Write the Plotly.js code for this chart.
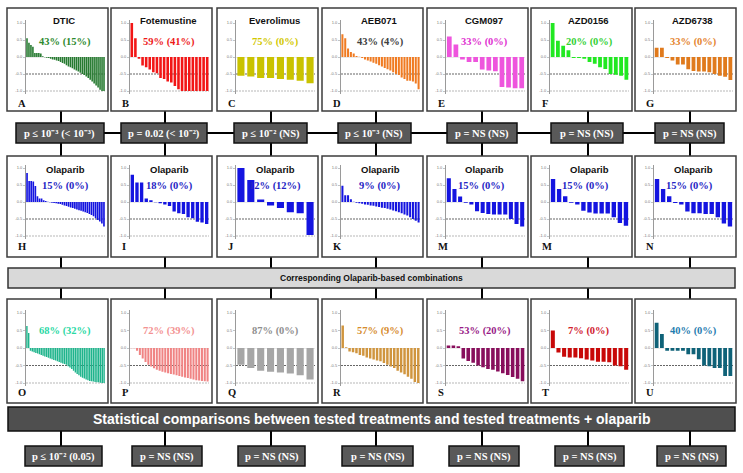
<!DOCTYPE html>
<html><head><meta charset="utf-8">
<script src="https://cdn.plot.ly/plotly-3.0.1.min.js"></script>
<style>html,body{margin:0;padding:0;background:#fff}#chart{width:743px;height:473px}</style>
</head><body><div id="chart"></div>
<script>
const W = 743, H = 473;
const SANS = 'Liberation Sans, Arial, sans-serif';
const SERIF = 'Liberation Serif, Times New Roman, serif';

// ---------- data ----------
// Top row: single agents
const dticValues = [0.55, 0.42, 0.35, 0.3, 0.12, 0.12, 0.12, 0.1, 0.02, -0.01, -0.02, -0.03, -0.05, -0.07, -0.08, -0.1, -0.12, -0.15, -0.18, -0.2, -0.24, -0.28, -0.3, -0.33, -0.37, -0.4, -0.43, -0.46, -0.5, -0.53, -0.57, -0.62, -0.67, -0.72, -0.78, -0.84, -0.9, -0.96, -1.0, -1.0];
const fotemustineValues = [1.0, 0.55, -0.05, -0.25, -0.3, -0.37, -0.45, -0.48, -0.62, -0.65, -0.72, -0.75, -0.85, -0.95, -1.0, -1.0, -1.0, -1.0, -1.0, -1.0, -1.0, -1.0];
const everolimusValues = [-0.55, -0.57, -0.62, -0.62, -0.65, -0.67, -0.7, -0.77];
const aeb071Values = [0.67, 0.55, 0.25, 0.15, 0.1, 0.03, 0.01, -0.03, -0.07, -0.1, -0.13, -0.17, -0.2, -0.24, -0.28, -0.32, -0.36, -0.4, -0.45, -0.5, -0.53, -0.6, -0.65, -0.7, -0.7, -0.72, -0.78, -0.95];
const cgm097Values = [0.6, 0.37, -0.07, -0.15, -0.15, -0.37, -0.4, -0.42, -0.88, -0.9, -0.92, -0.92];
const azd0156Values = [1.0, 0.48, 0.33, 0.2, -0.03, -0.03, -0.05, -0.15, -0.2, -0.3, -0.35, -0.5, -0.52, -0.55, -0.67];
const azd6738Values = [0.27, 0.27, -0.03, -0.1, -0.22, -0.22, -0.36, -0.41, -0.43, -0.43, -0.45, -0.5, -0.55, -0.58, -0.68];
// Middle row: olaparib alone in each model
const olapHValues = [0.85, 0.62, 0.62, 0.6, 0.47, 0.17, 0.1, 0.1, 0.05, 0.03, 0.01, -0.01, -0.02, -0.03, -0.04, -0.05, -0.06, -0.08, -0.1, -0.12, -0.14, -0.16, -0.18, -0.2, -0.22, -0.24, -0.26, -0.28, -0.3, -0.32, -0.35, -0.38, -0.42, -0.48, -0.53, -0.57, -0.63, -0.72];
const olapIValues = [0.8, 0.57, 0.57, 0.1, 0.05, -0.01, -0.04, -0.07, -0.12, -0.28, -0.33, -0.35, -0.45, -0.48, -0.58, -0.6, -0.65];
const olapJValues = [1.0, 0.65, 0.07, -0.1, -0.18, -0.3, -0.33, -0.97];
const olapKValues = [0.48, 0.2, 0.2, 0.08, 0.01, -0.02, -0.04, -0.05, -0.07, -0.08, -0.1, -0.11, -0.13, -0.15, -0.17, -0.18, -0.2, -0.22, -0.25, -0.27, -0.3, -0.33, -0.37, -0.4, -0.45, -0.5, -0.55, -0.6];
const olapM1Values = [0.7, 0.38, 0.16, -0.02, -0.07, -0.27, -0.32, -0.35, -0.37, -0.37, -0.37, -0.5, -0.65, -0.72];
const olapM2Values = [0.68, 0.38, 0.17, -0.02, -0.07, -0.26, -0.31, -0.34, -0.34, -0.34, -0.45, -0.62, -0.7];
const olapNValues = [0.68, 0.38, 0.17, -0.03, -0.07, -0.28, -0.33, -0.33, -0.35, -0.35, -0.45, -0.63, -0.72];
// Bottom row: olaparib-based combinations
const comboOValues = [0.63, 0.43, -0.08, -0.1, -0.12, -0.14, -0.16, -0.18, -0.2, -0.22, -0.24, -0.26, -0.28, -0.3, -0.32, -0.34, -0.36, -0.38, -0.4, -0.42, -0.44, -0.46, -0.48, -0.52, -0.56, -0.6, -0.65, -0.7, -0.74, -0.78, -0.82, -0.85, -0.87, -0.9, -0.92, -0.94, -0.95, -0.96, -0.97, -0.98, -0.98, -0.99, -1.0, -1.0];
const comboPValues = [-0.01, -0.01, -0.08, -0.2, -0.3, -0.4, -0.48, -0.53, -0.58, -0.62, -0.65, -0.68, -0.7, -0.72, -0.74, -0.76, -0.78, -0.8, -0.82, -0.84, -0.86, -0.88, -0.9, -0.92, -0.93, -0.94, -0.95, -0.96];
const comboQValues = [-0.48, -0.57, -0.65, -0.68, -0.7, -0.73, -0.78, -0.9];
const comboRValues = [0.64, 0.02, -0.1, -0.12, -0.15, -0.2, -0.22, -0.27, -0.3, -0.33, -0.36, -0.38, -0.43, -0.48, -0.53, -0.57, -0.65, -0.7, -0.75, -0.82, -0.88, -0.97, -1.0];
const comboSValues = [0.07, 0.07, 0.05, -0.3, -0.37, -0.42, -0.5, -0.55, -0.6, -0.62, -0.67, -0.72, -0.77, -0.83, -0.88, -0.95];
const comboTValues = [0.5, -0.13, -0.25, -0.27, -0.27, -0.29, -0.33, -0.36, -0.39, -0.39, -0.41, -0.5, -0.52, -0.62];
const comboUValues = [0.72, 0.4, -0.08, -0.08, -0.08, -0.08, -0.18, -0.18, -0.32, -0.5, -0.52, -0.57, -0.57, -0.8, -0.8];

const drugNames = ['DTIC', 'Fotemustine', 'Everolimus', 'AEB071', 'CGM097', 'AZD0156', 'AZD6738'];
const topRates = ['43% (15%)', '59% (41%)', '75% (0%)', '43% (4%)', '33% (0%)', '20% (0%)', '33% (0%)'];
const midRates = ['15% (0%)', '18% (0%)', '12% (12%)', '9% (0%)', '15% (0%)', '15% (0%)', '15% (0%)'];
const botRates = ['68% (32%)', '72% (39%)', '87% (0%)', '57% (9%)', '53% (20%)', '7% (0%)', '40% (0%)'];
const topLetters = ['A', 'B', 'C', 'D', 'E', 'F', 'G'];
const midLetters = ['H', 'I', 'J', 'K', 'M', 'M', 'N'];
const botLetters = ['O', 'P', 'Q', 'R', 'S', 'T', 'U'];
const singleVsOlapP = ['p ≤ 10⁻³ (&lt; 10⁻³)', 'p = 0.02 (&lt; 10⁻²)', 'p ≤ 10⁻² (NS)', 'p ≤ 10⁻³ (NS)', 'p = NS (NS)', 'p = NS (NS)', 'p = NS (NS)'];
const comboP = ['p ≤ 10⁻² (0.05)', 'p = NS (NS)', 'p = NS (NS)', 'p = NS (NS)', 'p = NS (NS)', 'p = NS (NS)', 'p = NS (NS)'];
const tickLabels = ['1.0', '0.5', '0.0', '-0.5', '-1.0'];
const tickValues = [1, 0.5, 0, -0.5, -1];

// ---------- styles ----------
const topSeries = [dticValues, fotemustineValues, everolimusValues, aeb071Values, cgm097Values, azd0156Values, azd6738Values];
const midSeries = [olapHValues, olapIValues, olapJValues, olapKValues, olapM1Values, olapM2Values, olapNValues];
const botSeries = [comboOValues, comboPValues, comboQValues, comboRValues, comboSValues, comboTValues, comboUValues];
const topBarColors = ['#267a30', '#f21616', '#c9c200', '#f07b22', '#ee55dd', '#22e822', '#e07a1c'];
const topTextColors = ['#2e8a2e', '#ee1a1a', '#d2c800', '#404040', '#e030d0', '#33d033', '#e4842e'];
const midBarColor = '#1414e0', midTextColor = '#2424c4';
const botBarColors = ['#1fb48c', '#f08484', '#a6a6a6', '#d0953e', '#880e5c', '#c80808', '#0f6278'];
const botTextColors = ['#2ad8a4', '#f39292', '#8e8e8e', '#d68c2e', '#981a86', '#d0202e', '#1f7db0'];

const lefts = [7, 111, 217, 322, 427, 531, 635];
const PW = 101;
const rowTops = [8, 156, 299];
const rowBottoms = [111, 257, 403];
const rowAxisOffsets = [[15, 83], [12, 80], [14, 84]]; // pixel offsets of 1.0 and -1.0 from panel top
const rowTitleY = [12, 13, null];
const rowRateY = [34, 30, 32];
const rowLetterY = [95, 90, 93];
const connX = [61, 165, 271, 376, 482, 588, 690];
const topPBoxes = [[16, 104], [121, 207], [234, 307], [338, 411], [447, 517], [551, 623], [655, 724]];
const botPBoxes = [[25, 102], [132, 202], [238, 305], [342, 413], [449, 519], [555, 624], [657, 726]];

const px = v => v / W;
const py = v => 1 - v / H;

const data = [];
const layout = {
  width: W, height: H, margin: {l: 0, r: 0, t: 0, b: 0},
  paper_bgcolor: '#ffffff', plot_bgcolor: 'rgba(0,0,0,0)',
  showlegend: false, shapes: [], annotations: []
};
const shapes = layout.shapes, ann = layout.annotations;

function rect(x0, y0, x1, y1, fill, lineColor, lw) {
  shapes.push({type: 'rect', xref: 'paper', yref: 'paper', x0: px(x0), x1: px(x1), y0: py(y1), y1: py(y0),
    fillcolor: fill, line: {color: lineColor, width: lw}, layer: 'below'});
}
function seg(x0, y0, x1, y1, color, lw) {
  shapes.push({type: 'line', xref: 'paper', yref: 'paper', x0: px(x0), x1: px(x1), y0: py(y0), y1: py(y1),
    line: {color: color, width: lw}, layer: 'below'});
}
function text(x, y, t, size, color, family, anchor) {
  ann.push({xref: 'paper', yref: 'paper', x: px(x), y: py(y), text: t, showarrow: false,
    xanchor: anchor || 'center', yanchor: 'middle', font: {size: size, color: color, family: family}});
}

// connectors (drawn first so boxes cover their ends)
connX.forEach(cx => {
  seg(cx, 111, cx, 123, '#000', 2);
  seg(cx, 143, cx, 156, '#000', 2);
  seg(cx, 257, cx, 268, '#000', 2);
  seg(cx, 288, cx, 299, '#000', 2);
  seg(cx, 431, cx, 446, '#000', 2);
});
for (let i = 0; i < topPBoxes.length - 1; i++) seg(topPBoxes[i][1], 133, topPBoxes[i + 1][0], 133, '#000', 2);

// panels
const rows = [topSeries, midSeries, botSeries];
let k = 0;
rows.forEach((series, r) => {
  series.forEach((vals, c) => {
    k++;
    const left = lefts[c], top = rowTops[r];
    rect(left, top, left + PW, rowBottoms[r], '#ffffff', '#3c3c3c', 1.5);
    const y1 = top + rowAxisOffsets[r][0], ym1 = top + rowAxisOffsets[r][1];
    const ppu = (ym1 - y1) / 2;
    const xa = 'xaxis' + k, ya = 'yaxis' + k;
    const color = r === 0 ? topBarColors[c] : (r === 1 ? midBarColor : botBarColors[c]);
    const n = vals.length;
    data.push({type: 'bar', x: vals.map((v, i) => i + 1), y: vals, xaxis: 'x' + k, yaxis: 'y' + k,
      width: n > 30 ? 0.8 : 0.72, marker: {color: color, line: {width: 0}}, hoverinfo: 'skip', showlegend: false});
    layout[xa] = {domain: [px(left + 19), px(left + 98)], range: [0.5, n + 0.5], visible: false, fixedrange: true, anchor: 'y' + k};
    layout[ya] = {domain: [py(ym1 + 0.08 * ppu), py(y1 - 0.08 * ppu)], range: [-1.08, 1.08], anchor: 'x' + k,
      showgrid: false, zeroline: true, zerolinecolor: '#d5d5d5', zerolinewidth: 0.5,
      showline: true, linecolor: '#9a9a9a', linewidth: 1, ticks: 'outside', ticklen: 2, tickwidth: 0.5, tickcolor: '#888',
      tickvals: tickValues, ticktext: tickLabels, tickfont: {size: 4, color: '#777', family: SANS}, fixedrange: true};
    shapes.push({type: 'line', xref: 'x' + k + ' domain', yref: 'y' + k, x0: 0, x1: 1, y0: -0.5, y1: -0.5,
      line: {color: '#222', width: 0.7, dash: '2px,1px'}, layer: 'below'});
    shapes.push({type: 'line', xref: 'x' + k + ' domain', yref: 'y' + k, x0: 0, x1: 1, y0: -1, y1: -1,
      line: {color: '#999', width: 0.7, dash: '2px,1px'}, layer: 'below'});
    // texts
    if (r === 0) text(left + 57, top + rowTitleY[r], '<b>' + drugNames[c] + '</b>', 9.5, '#111', SANS);
    if (r === 1) text(left + 58, top + rowTitleY[r], '<b>Olaparib</b>', 9.5, '#111', SANS);
    const rate = r === 0 ? topRates[c] : (r === 1 ? midRates[c] : botRates[c]);
    const tcol = r === 0 ? topTextColors[c] : (r === 1 ? midTextColor : botTextColors[c]);
    const rx = (r === 1 && c >= 4) ? left + 54 : left + 58;
    text(rx, top + rowRateY[r], '<b>' + rate + '</b>', 10.5, tcol, SERIF);
    const letter = r === 0 ? topLetters[c] : (r === 1 ? midLetters[c] : botLetters[c]);
    text(left + 9, top + rowLetterY[r], '<b>' + letter + '</b>', 10.5, '#111', SERIF, 'left');
  });
});

// p-value boxes, single agent vs olaparib
topPBoxes.forEach((b, i) => {
  rect(b[0], 123, b[1], 143, '#595959', '#111', 1.5);
  text((b[0] + b[1]) / 2, 133.5, '<b>' + singleVsOlapP[i] + '</b>', 10.5, '#ffffff', SERIF);
});
// banner 1
rect(8, 268, 735, 288, '#d9d9d9', '#333', 1.5);
text(371.5, 278, '<b>Corresponding Olaparib-based combinations</b>', 8.5, '#111', SANS);
// banner 2
rect(8, 407, 735, 431, '#4f4f4f', '#111', 1.5);
text(371.5, 419, '<b>Statistical comparisons between tested treatments and tested treatments + olaparib</b>', 14, '#ffffff', SANS);
// p-value boxes, combination comparisons
botPBoxes.forEach((b, i) => {
  rect(b[0], 446, b[1], 466, '#595959', '#111', 1.5);
  text((b[0] + b[1]) / 2, 456.5, '<b>' + comboP[i] + '</b>', 10.5, '#ffffff', SERIF);
});

Plotly.newPlot('chart', data, layout, {staticPlot: true, displayModeBar: false});
</script>
</body></html>
